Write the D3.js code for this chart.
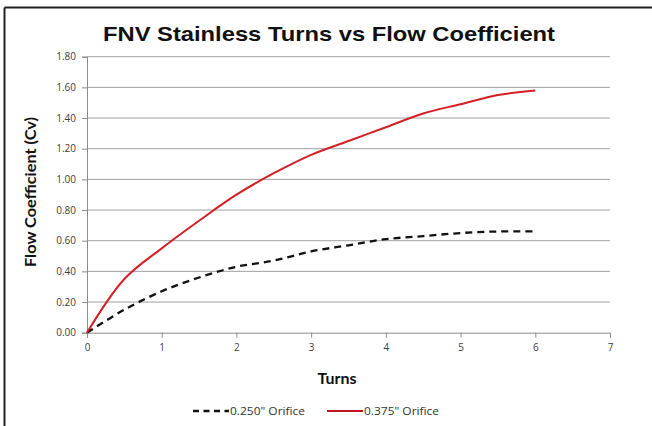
<!DOCTYPE html>
<html>
<head>
<meta charset="utf-8">
<script src="https://cdn.jsdelivr.net/npm/d3@7"></script>
<style>
  body { margin: 0; background: #fff; }
  svg { display: block; }
</style>
</head>
<body>
<div id="chart"></div>
<script>
const turns = [0, 0.5, 1, 1.5, 2, 2.5, 3, 3.5, 4, 4.5, 5, 5.5, 6];
const cv250 = [0, 0.15, 0.27, 0.36, 0.43, 0.47, 0.53, 0.57, 0.61, 0.63, 0.65, 0.66, 0.66];
const cv375 = [0, 0.35, 0.55, 0.73, 0.90, 1.04, 1.16, 1.25, 1.34, 1.43, 1.49, 1.55, 1.58];
const seriesNames = ['0.250" Orifice', '0.375" Orifice'];
const xTicks = [0, 1, 2, 3, 4, 5, 6, 7];
const yTicks = [0, 0.2, 0.4, 0.6, 0.8, 1.0, 1.2, 1.4, 1.6, 1.8];

const width = 652;
const height = 426;
const margin = {left: 87, right: 42, top: 56.7, bottom: 93.3};

const svg = d3.select("#chart")
    .append('svg')
    .attr('width', width)
    .attr('height', height);

// frame (only top and left edges show in the crop)
svg.append('line')
    .attr('x1', 4.5).attr('y1', 7.5).attr('x2', width).attr('y2', 7.5)
    .attr('stroke', '#222').attr('stroke-width', 2);
svg.append('line')
    .attr('x1', 4.5).attr('y1', 7.5).attr('x2', 4.5).attr('y2', height)
    .attr('stroke', '#222').attr('stroke-width', 2);

const x = d3.scaleLinear()
    .domain([0, 7])
    .range([margin.left, width - margin.right]);

const y = d3.scaleLinear()
    .domain([0, 1.8])
    .range([height - margin.bottom, margin.top]);

// gridlines
svg.append('g')
    .selectAll('line')
    .data(yTicks.slice(1))
    .enter()
    .append('line')
    .attr('x1', x(0))
    .attr('x2', x(7))
    .attr('y1', d => y(d))
    .attr('y2', d => y(d))
    .attr('stroke', '#a0a0a0')
    .attr('stroke-width', 1);

// axes
const yAxis = svg.append('g')
    .attr('transform', 'translate(' + x(0) + ',0)')
    .call(d3.axisLeft(y).tickValues(yTicks).tickFormat(d3.format('.2f')).tickSize(5).tickPadding(6));

const xAxis = svg.append('g')
    .attr('transform', 'translate(0,' + y(0) + ')')
    .call(d3.axisBottom(x).tickValues(xTicks).tickFormat(d3.format('d')).tickSize(5).tickPadding(6));

[xAxis, yAxis].forEach(function(a) {
    a.select('.domain').attr('stroke', '#8c8c8c');
    a.selectAll('.tick line').attr('stroke', '#8c8c8c');
    a.selectAll('.tick text')
        .attr('fill', '#404040')
        .style('font-family', 'Open Sans, sans-serif')
        .style('font-size', '10px');
});

const line = d3.line()
    .x(d => x(d[0]))
    .y(d => y(d[1]))
    .curve(d3.curveCatmullRom.alpha(0.5));

svg.append('path')
    .datum(turns.map((t, i) => [t, cv250[i]]))
    .attr('d', line)
    .attr('fill', 'none')
    .attr('stroke', '#111')
    .attr('stroke-width', 2.3)
    .attr('stroke-dasharray', '7,5');

svg.append('path')
    .datum(turns.map((t, i) => [t, cv375[i]]))
    .attr('d', line)
    .attr('fill', 'none')
    .attr('stroke', '#d41f26')
    .attr('stroke-width', 2);

// title
svg.append('text')
    .attr('x', 329)
    .attr('y', 41)
    .attr('text-anchor', 'middle')
    .attr('textLength', 452)
    .attr('lengthAdjust', 'spacingAndGlyphs')
    .style('font-family', 'Liberation Sans, Arial, sans-serif')
    .style('font-weight', 'bold')
    .style('font-size', '21px')
    .attr('fill', '#111')
    .text('FNV Stainless Turns vs Flow Coefficient');

svg.append('text')
    .attr('transform', 'translate(36,192) rotate(-90)')
    .attr('text-anchor', 'middle')
    .attr('textLength', 150)
    .attr('lengthAdjust', 'spacingAndGlyphs')
    .style('font-family', 'Lato, sans-serif')
    .style('font-weight', 'bold')
    .style('font-size', '16px')
    .attr('fill', '#111')
    .text('Flow Coefficient (Cv)');

svg.append('text')
    .attr('x', 337)
    .attr('y', 384)
    .attr('text-anchor', 'middle')
    .style('font-family', 'Lato, sans-serif')
    .style('font-weight', 'bold')
    .style('font-size', '16px')
    .attr('fill', '#111')
    .text('Turns');

// legend
const legend = svg.append('g').attr('transform', 'translate(193,411)');
const legendItems = [
    {name: seriesNames[0], color: '#111', dash: '6,4.5', width: 2.3, x: 0},
    {name: seriesNames[1], color: '#c0141c', dash: null, width: 2, x: 134}
];
const item = legend.selectAll('g')
    .data(legendItems)
    .enter()
    .append('g')
    .attr('transform', d => 'translate(' + d.x + ',0)');
item.append('line')
    .attr('x1', 0).attr('x2', 36)
    .attr('stroke', d => d.color)
    .attr('stroke-width', d => d.width)
    .attr('stroke-dasharray', d => d.dash);
item.append('text')
    .attr('x', 37)
    .attr('dy', '.35em')
    .attr('textLength', 75)
    .attr('lengthAdjust', 'spacingAndGlyphs')
    .style('font-family', 'Open Sans, sans-serif')
    .style('font-size', '10.5px')
    .attr('fill', '#333')
    .text(d => d.name);
</script>
</body>
</html>
